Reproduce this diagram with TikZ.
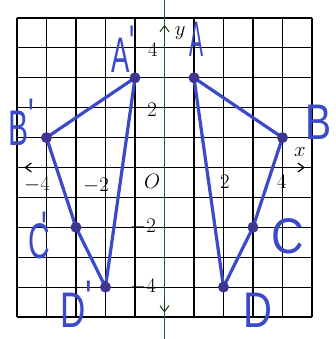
\documentclass[tikz,border=0pt]{standalone}
\usepackage{fontspec}
\newfontfamily\handfont{Liberation Sans}
\usetikzlibrary{arrows.meta}
\definecolor{penblue}{RGB}{58,74,200}
\definecolor{dotblue}{RGB}{62,52,145}
\definecolor{axgreen}{RGB}{28,95,45}
\newcommand{\hwtext}[2]{\scalebox{#1}[1]{#2}}
\newcommand{\hwprime}[1]{\raisebox{#1}{\textquotesingle}}
\begin{document}
\begin{tikzpicture}[x=29.5pt,y=29.9pt,
  gridline/.style={black, line width=1.1pt},
  seg/.style={penblue, line width=3.2pt, line cap=round},
  dot/.style={fill=dotblue},
  num/.style={font=\fontsize{20}{20}\selectfont, inner sep=0pt},
  hand/.style={text=penblue, font=\handfont\fontsize{50}{50}\selectfont, inner sep=0pt, anchor=base west},
  tip/.style={line width=1pt, -{Straight Barb[length=6pt,width=9pt]}}]
\useasboundingbox (-5.576,-5.736) rectangle (5.814,5.602);
\fill[white] (-5.576,-5.736) rectangle (5.814,5.602);
\foreach \i in {-5,...,5} {
  \draw[gridline] (\i,-5) -- (\i,5);
  \draw[gridline] (-5,\i) -- (5,\i);
}
% axes
\coordinate (xl) at (-4.75,0);
\coordinate (xr) at (4.76,0);
\coordinate (yt) at (0,4.77);
\coordinate (yb) at (0,-4.85);
\coordinate (gtop) at (0,5.602);
\coordinate (gbot) at (0,-5.736);
\draw[black, line width=1.2pt, {Straight Barb[length=6pt,width=9pt]}-{Straight Barb[length=6pt,width=9pt]}] (xl) -- (xr);
\draw[axgreen, line width=1.8pt] (gbot) -- (gtop);
\draw[tip, axgreen!60!black] (0,4.4) -- (yt);
\draw[tip, axgreen!60!black] (0,-4.5) -- (yb);
% axis labels
\node[num] (xm4) at (-4.32,-0.59) {$-4$};
\node[num] (xm2) at (-2.32,-0.62) {$-2$};
\node[num] (orig) at (-0.42,-0.48) {$O$};
\node[num] (xp2) at (2.05,-0.49) {$2$};
\node[num] (xp4) at (3.98,-0.49) {$4$};
\node[num] (yp4) at (-0.39,3.93) {$4$};
\node[num] (yp2) at (-0.42,1.92) {$2$};
\node[num] (ym2) at (-0.73,-1.99) {$-2$};
\node[num] (ym4) at (-0.73,-4.0) {$-4$};
\node[num] (ylab) at (0.53,4.50) {$y$};
\node[num] (xlab) at (4.59,0.52) {$x$};
% points
\coordinate (A) at (1,3);
\coordinate (B) at (4,1);
\coordinate (C) at (3,-2);
\coordinate (D) at (2,-4);
\coordinate (Ap) at (-1,3);
\coordinate (Bp) at (-4,1);
\coordinate (Cp) at (-3,-2);
\coordinate (Dp) at (-2,-4);
\draw[seg] (A) -- (B) -- (C) -- (D) -- cycle;
\draw[seg] (Ap) -- (Bp) -- (Cp) -- (Dp) -- cycle;
\foreach \p in {A,B,C,D,Ap,Bp,Cp,Dp} \fill[dot] (\p) circle (5.5pt);
% handwritten labels
\node[hand] (lA) at (0.84,3.70) {\hwtext{0.42}{A}};
\node[hand] (lB) at (4.76,0.92) {\hwtext{0.78}{B}};
\node[hand] (lC) at (3.61,-2.86) {\hwtext{0.9}{C}};
\node[hand] (lD) at (2.66,-5.36) {\hwtext{0.8}{D}};
\node[hand] (lAp) at (-1.80,3.19) {\hwtext{0.55}{A\hwprime{12pt}}};
\node[hand] (lBp) at (-5.30,0.75) {\hwtext{0.6}{B\hwprime{12pt}}};
\node[hand] (lCp) at (-4.63,-3.03) {\hwtext{0.6}{C\kern-14pt\hwprime{12pt}}};
\node[hand] (lDp) at (-3.54,-5.36) {\hwtext{0.7}{D\hwprime{12pt}}};
\end{tikzpicture}
\end{document}
